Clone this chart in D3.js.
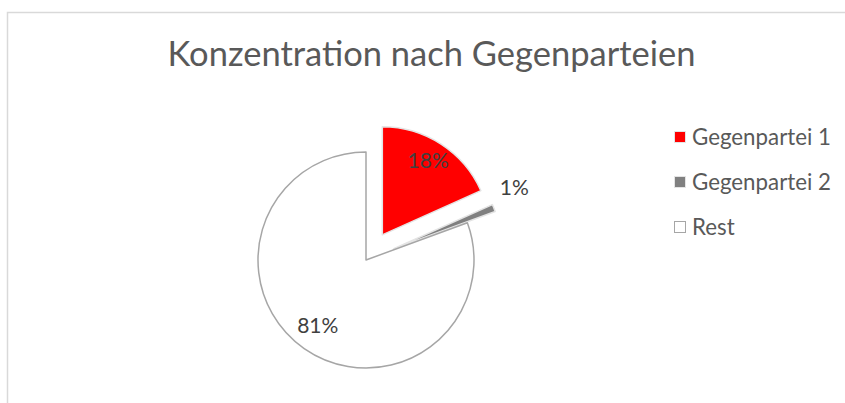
<!DOCTYPE html>
<html>
<head>
<meta charset="utf-8">
<script src="https://cdn.jsdelivr.net/npm/d3@7/dist/d3.min.js"></script>
<style>
  html, body { margin: 0; padding: 0; background: #fff; }
  svg { display: block; font-family: Lato, "Open Sans", sans-serif; }
</style>
</head>
<body>
<div id="chart"></div>
<script>
(function () {
  'use strict';

  // Data
  var categories = ['Gegenpartei 1', 'Gegenpartei 2', 'Rest'];
  var shares = [18.3, 1.1, 80.6];
  var labels = ['18%', '1%', '81%'];
  var exploded = [true, true, false];
  var title = 'Konzentration nach Gegenparteien';

  var width = 845, height = 403;
  var cx = 366, cy = 260, radius = 108, explode = 30;

  var fills = ['#ff0000', '#808080', '#ffffff'];
  var strokes = ['#e4e4e4', '#e4e4e4', '#a6a6a6'];

  var svg = d3.select('#chart').append('svg')
    .attr('width', width)
    .attr('height', height);

  // Chart frame (runs off the right and bottom edge)
  svg.append('path')
    .attr('d', 'M7.5,' + height + 'V12.5H' + width)
    .attr('fill', 'none')
    .attr('stroke', '#d9d9d9')
    .attr('stroke-width', 1.5);

  // Title
  svg.append('text')
    .attr('x', 431.5)
    .attr('y', 66)
    .attr('text-anchor', 'middle')
    .attr('fill', '#595959')
    .attr('font-size', 34.5)
    .text(title);

  var pie = d3.pie().sort(null).value(function (d) { return d; });
  var arcs = pie(shares);

  var arc = d3.arc().innerRadius(0).outerRadius(radius);
  var labelArc = d3.arc().innerRadius(radius * 0.78).outerRadius(radius * 0.78);

  function offset(d, i) {
    if (!exploded[i]) return [0, 0];
    var a = (d.startAngle + d.endAngle) / 2;
    return [Math.sin(a) * explode, -Math.cos(a) * explode];
  }

  var g = svg.append('g').attr('transform', 'translate(' + cx + ',' + cy + ')');

  var slices = g.selectAll('g.slice')
    .data(arcs)
    .enter().append('g')
    .attr('class', 'slice')
    .attr('transform', function (d, i) {
      var o = offset(d, i);
      return 'translate(' + o[0] + ',' + o[1] + ')';
    });

  slices.append('path')
    .attr('d', arc)
    .attr('fill', function (d, i) { return fills[i]; })
    .attr('stroke', function (d, i) { return strokes[i]; })
    .attr('stroke-width', 1.5)
    .attr('stroke-linejoin', 'round');

  // Data labels: small slices outside (at the slice's leading edge), others inside
  slices.append('text')
    .attr('transform', function (d, i) {
      var p;
      if (shares[i] < 5) {
        var r = radius + 24;
        p = [Math.sin(d.startAngle) * r, -Math.cos(d.startAngle) * r];
      } else {
        p = labelArc.centroid(d);
      }
      return 'translate(' + p[0] + ',' + p[1] + ')';
    })
    .attr('text-anchor', 'middle')
    .attr('dy', function (d, i) { return shares[i] < 5 ? '0' : '0.2em'; })
    .attr('fill', '#404040')
    .attr('font-size', 21)
    .text(function (d, i) { return labels[i]; });

  // Legend
  var legend = svg.append('g').attr('transform', 'translate(674,137)');
  var rows = legend.selectAll('g')
    .data(categories)
    .enter().append('g')
    .attr('transform', function (d, i) { return 'translate(0,' + (i * 45) + ')'; });

  rows.append('rect')
    .attr('x', 0.5)
    .attr('y', -5.5)
    .attr('width', 11)
    .attr('height', 11)
    .attr('fill', function (d, i) { return fills[i]; })
    .attr('stroke', function (d, i) { return strokes[i]; })
    .attr('stroke-width', 1);

  rows.append('text')
    .attr('x', 18)
    .attr('dy', '0.35em')
    .attr('fill', '#595959')
    .attr('font-size', 22.3)
    .text(function (d) { return d; });
})();
</script>
</body>
</html>
